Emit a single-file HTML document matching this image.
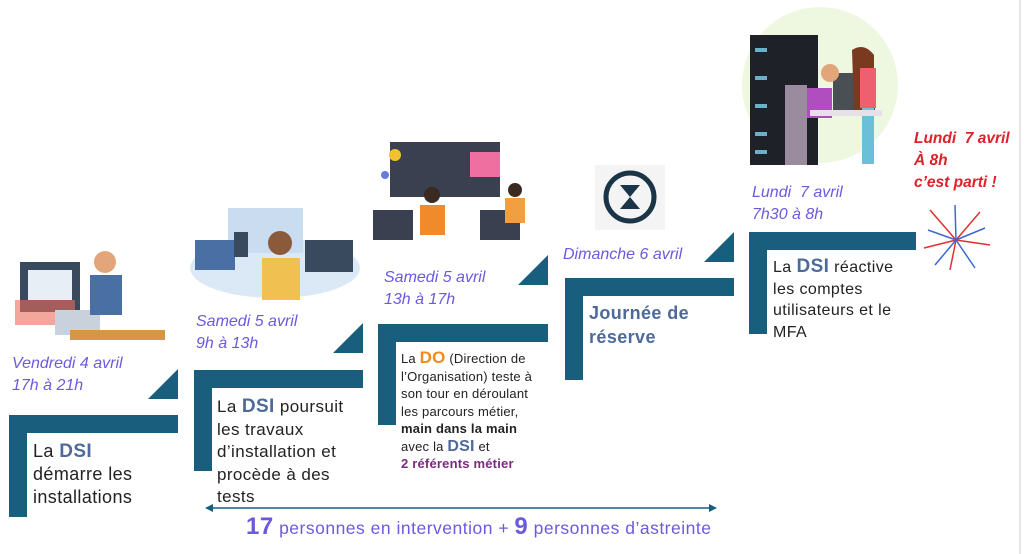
<!DOCTYPE html>
<html><head><meta charset="utf-8"><style>
body{margin:0;width:1024px;height:554px;background:#fff;position:relative;overflow:hidden;font-family:"Liberation Sans",sans-serif}
.a{position:absolute}
.bar{position:absolute;background:#1a5e7e}
.date{position:absolute;color:#6a5ae0;font-style:italic;font-size:16px;line-height:22px}
.txt{position:absolute;color:#222;font-size:17px;line-height:22px;letter-spacing:.4px}
.dsi{color:#4e6a9a;font-weight:bold;font-size:19px}
</style></head><body>
<svg class="a" style="left:0;top:0" width="1024" height="554">
<rect x="20" y="262" width="60" height="50" fill="#3a4a5e"/><rect x="28" y="270" width="44" height="30" fill="#e8eef6"/>
<rect x="15" y="300" width="60" height="25" fill="#e96b5a" opacity=".6"/>
<rect x="55" y="310" width="45" height="25" fill="#c9d2dc"/>
<circle cx="105" cy="262" r="11" fill="#e2a67a"/><path d="M90 275 h32 v40 h-32z" fill="#4a6fa5"/>
<rect x="70" y="330" width="95" height="10" fill="#d9944a"/>
<ellipse cx="275" cy="268" rx="85" ry="30" fill="#dbe9f6"/>
<rect x="228" y="208" width="75" height="45" fill="#c9dcf0"/><rect x="195" y="240" width="40" height="30" fill="#4a6fa5"/>
<rect x="305" y="240" width="48" height="32" fill="#3a4a5e"/><rect x="234" y="232" width="14" height="25" fill="#3a4a5e"/>
<circle cx="280" cy="243" r="12" fill="#8a5a3a"/><path d="M262 258 h38 v42 h-38z" fill="#f0c050"/>
<rect x="390" y="142" width="110" height="55" fill="#3a4050"/><rect x="470" y="152" width="30" height="25" fill="#ee6fa0"/>
<rect x="373" y="210" width="40" height="30" fill="#3a4050"/><rect x="480" y="210" width="40" height="30" fill="#3a4050"/>
<circle cx="432" cy="195" r="8" fill="#3a2a20"/><path d="M420 205 h25 v30 h-25z" fill="#f08a2a"/>
<circle cx="515" cy="190" r="7" fill="#3a2a20"/><path d="M505 198 h20 v25 h-20z" fill="#f0a040"/>
<circle cx="395" cy="155" r="6" fill="#f2c030"/><circle cx="385" cy="175" r="4" fill="#6a7adf"/>
<rect x="595" y="165" width="70" height="65" fill="#f4f4f4"/>
<circle cx="630" cy="197" r="24" fill="none" stroke="#1a3448" stroke-width="5"/><path d="M620 185 h20 l-10 12 l10 12 h-20 l10 -12z" fill="#1a3448"/>
<circle cx="820" cy="85" r="78" fill="#eef8e0"/>
<rect x="750" y="35" width="68" height="130" fill="#1e2228"/>
<g fill="#6ab0c8"><rect x="755" y="48" width="12" height="4"/><rect x="755" y="76" width="12" height="4"/><rect x="755" y="104" width="12" height="4"/><rect x="755" y="132" width="12" height="4"/><rect x="755" y="150" width="12" height="4"/></g>
<rect x="833" y="73" width="42" height="38" fill="#4a4e55"/>
<circle cx="830" cy="73" r="9" fill="#e2a67a"/><path d="M807 88 h25 v30 h-25z" fill="#b04ec0"/>
<path d="M852 50 q12 -8 22 5 v55 h-20z" fill="#7a3a20"/><rect x="860" y="68" width="16" height="40" fill="#ee6070"/><rect x="862" y="108" width="12" height="56" fill="#6ac0d8"/>
<rect x="810" y="110" width="72" height="6" fill="#e8e0e8"/><rect x="785" y="85" width="22" height="80" fill="#d0b8d0" opacity=".7"/>
<g stroke="#e03030" stroke-width="1.5"><line x1="956" y1="240" x2="930" y2="210"/><line x1="956" y1="240" x2="980" y2="212"/><line x1="956" y1="240" x2="924" y2="248"/><line x1="956" y1="240" x2="990" y2="245"/><line x1="956" y1="240" x2="950" y2="270"/></g>
<g stroke="#3a6ad0" stroke-width="1.5"><line x1="956" y1="240" x2="955" y2="205"/><line x1="956" y1="240" x2="928" y2="230"/><line x1="956" y1="240" x2="985" y2="228"/><line x1="956" y1="240" x2="935" y2="265"/><line x1="956" y1="240" x2="975" y2="268"/></g>
<line x1="1020" y1="0" x2="1020" y2="554" stroke="#ccc" stroke-width="1"/>
<g fill="#1a5e7e">
<polygon points="148,399 178,369 178,399"/>
<polygon points="333,353 363,323 363,353"/>
<polygon points="518,285 548,255 548,285"/>
<polygon points="704,262 734,232 734,262"/>
</g>
<line x1="210" y1="508" x2="712" y2="508" stroke="#1a5e7e" stroke-width="1.5"/>
<polygon points="205,508 213,504 213,512" fill="#1a5e7e"/><polygon points="717,508 709,504 709,512" fill="#1a5e7e"/>
</svg>
<div class="bar" style="left:9px;top:415px;width:169px;height:18px"></div><div class="bar" style="left:9px;top:415px;width:18px;height:102px"></div>
<div class="bar" style="left:194px;top:370px;width:169px;height:18px"></div><div class="bar" style="left:194px;top:370px;width:18px;height:101px"></div>
<div class="bar" style="left:378px;top:324px;width:170px;height:18px"></div><div class="bar" style="left:378px;top:324px;width:18px;height:101px"></div>
<div class="bar" style="left:565px;top:278px;width:169px;height:18px"></div><div class="bar" style="left:565px;top:278px;width:18px;height:102px"></div>
<div class="bar" style="left:749px;top:232px;width:167px;height:18px"></div><div class="bar" style="left:749px;top:232px;width:18px;height:102px"></div>
<div class="date" style="left:12px;top:353px">Vendredi 4 avril<br>17h à 21h</div>
<div class="date" style="left:196px;top:311px">Samedi 5 avril<br>9h à 13h</div>
<div class="date" style="left:384px;top:267px">Samedi 5 avril<br>13h à 17h</div>
<div class="date" style="left:563px;top:244px">Dimanche 6 avril</div>
<div class="date" style="left:752px;top:182px">Lundi&nbsp; 7 avril<br>7h30 à 8h</div>
<div class="date" style="left:914px;top:128px;color:#e0202a;font-weight:bold;font-size:15.5px">Lundi&nbsp; 7 avril<br>À 8h<br>c’est parti !</div>
<div class="txt" style="left:33px;top:440px;font-size:18px;line-height:23px">La <span class="dsi">DSI</span><br>démarre les<br>installations</div>
<div class="txt" style="left:217px;top:396px;line-height:22.5px">La <span class="dsi">DSI</span> poursuit<br>les travaux<br>d’installation et<br>procède à des<br>tests</div>
<div class="txt" style="left:401px;top:349px;font-size:13px;line-height:17.5px;letter-spacing:.2px">La <span style="color:#f08a1a;font-weight:bold;font-size:17px">DO</span> (Direction de<br>l’Organisation) teste à<br>son tour en déroulant<br>les parcours métier,<br><b>main dans la main</b><br>avec la <span class="dsi" style="font-size:16px">DSI</span> et<br><b style="color:#7a2a80">2 référents métier</b></div>
<div class="txt" style="left:589px;top:301px;font-weight:bold;color:#4e6a9a;font-size:18px;line-height:24px">Journée de<br>réserve</div>
<div class="txt" style="left:773px;top:256px;font-size:16px;line-height:21.5px">La <span class="dsi">DSI</span> réactive<br>les comptes<br>utilisateurs et le<br>MFA</div>
<div class="a" style="left:246px;top:514px;color:#6a5ae0;font-size:17.5px;line-height:26px;letter-spacing:.5px;white-space:nowrap"><b style="font-size:24px">17</b> personnes en intervention + <b style="font-size:24px">9</b> personnes d’astreinte</div>
</body></html>
